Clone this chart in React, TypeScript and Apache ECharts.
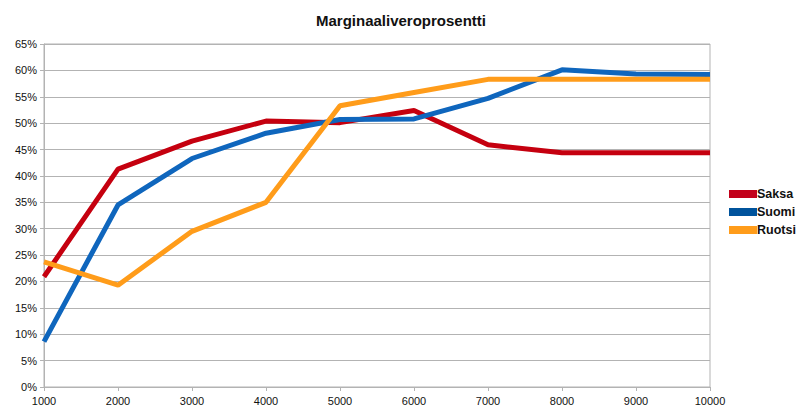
import React, { useEffect, useRef } from "react";
import * as echarts from "echarts";

const categories = ["1000", "2000", "3000", "4000", "5000", "6000", "7000", "8000", "9000", "10000"];
const saksa = [20.9, 41.3, 46.6, 50.4, 50.1, 52.4, 45.9, 44.4, 44.4, 44.4];
const suomi = [8.6, 34.5, 43.3, 48.1, 50.7, 50.8, 54.7, 60.1, 59.3, 59.2];
const ruotsi = [23.7, 19.3, 29.5, 35.0, 53.3, 55.8, 58.3, 58.3, 58.3, 58.3];
const seriesNames = ["Saksa", "Suomi", "Ruotsi"];
const lineColors = ["#c5000f", "#0f66bd", "#ff9c1a"];
const legendColors = ["#c2001a", "#00539c", "#ff9c1a"];

export default function App() {
  const ref = useRef<HTMLDivElement>(null);
  useEffect(() => {
    if (!ref.current) return;
    const chart = echarts.init(ref.current, null, { renderer: "svg" });
    const font = "Liberation Sans, Arial, sans-serif";
    const data = [saksa, suomi, ruotsi];
    chart.setOption({
      animation: false,
      backgroundColor: "#ffffff",
      title: {
        text: "Marginaaliveroprosentti",
        left: 396,
        textAlign: "center",
        top: 8,
        textStyle: { fontFamily: font, fontSize: 15, fontWeight: "bold", color: "#111111" },
      },
      legend: {
        orient: "vertical",
        left: 724,
        top: 182,
        itemWidth: 28,
        itemHeight: 8,
        itemGap: 4,
        icon: "rect",
        textStyle: { fontFamily: font, fontSize: 12.5, fontWeight: "bold", color: "#111111", padding: [0, 0, 0, -5], lineHeight: 14 },
        data: seriesNames.map((n, i) => ({ name: n, itemStyle: { color: legendColors[i] } })),
      },
      grid: {
        left: 44,
        right: 90,
        top: 44,
        bottom: 29,
        show: true,
        borderColor: "#b3b3b3",
        borderWidth: 1,
        containLabel: false,
      },
      xAxis: {
        type: "category",
        data: categories,
        boundaryGap: false,
        axisLine: { lineStyle: { color: "#b3b3b3" } },
        axisTick: { show: true, length: 4, lineStyle: { color: "#b3b3b3" } },
        axisLabel: { fontFamily: font, fontSize: 11, color: "#111111", margin: 8, interval: 0 },
        splitLine: { show: false },
      },
      yAxis: {
        type: "value",
        min: 0,
        max: 65,
        interval: 5,
        axisLine: { show: true, lineStyle: { color: "#b3b3b3" } },
        axisTick: { show: true, length: 4, lineStyle: { color: "#b3b3b3" } },
        axisLabel: { fontFamily: font, fontSize: 11, color: "#111111", formatter: "{value}%", margin: 7 },
        splitLine: { lineStyle: { color: "#b3b3b3" } },
      },
      series: seriesNames.map((n, i) => ({
        name: n,
        type: "line",
        data: data[i],
        symbol: "none",
        smooth: false,
        lineStyle: { width: 5, color: lineColors[i] },
        itemStyle: { color: lineColors[i] },
      })),
    });
    return () => chart.dispose();
  }, []);
  return <div ref={ref} style={{ position: "fixed", left: 0, top: 0, width: 800, height: 416 }} />;
}
